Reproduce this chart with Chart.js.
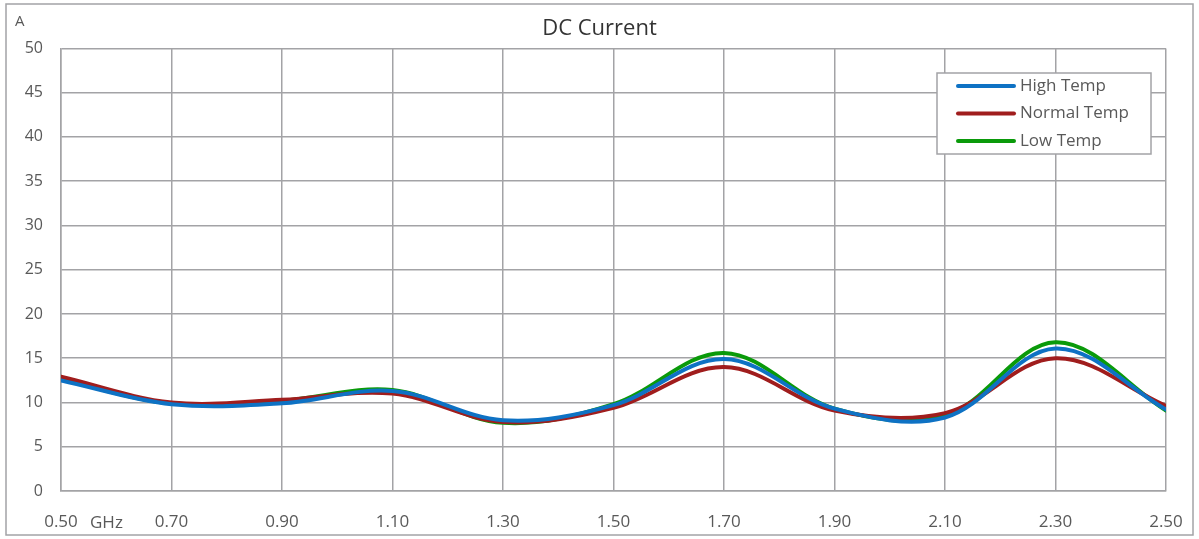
<!DOCTYPE html>
<html>
<head>
<meta charset="utf-8">
<title>DC Current</title>
<script src="https://cdn.jsdelivr.net/npm/chart.js@4.4.1/dist/chart.umd.min.js"></script>
<style>
    html, body { margin: 0; padding: 0; background: #fff; }
    #wrap { position: relative; width: 1199px; height: 539px; }
</style>
</head>
<body>
<div id="wrap"><canvas id="dc-chart"></canvas></div>
<script>
// --- DATA ---
const freqs = [0.5, 0.7, 0.9, 1.1, 1.3, 1.5, 1.7, 1.9, 2.1, 2.3, 2.5];
const highTemp   = [12.5, 9.8, 9.9, 11.3, 8.0, 9.7, 14.9, 9.3, 8.3, 16.1, 9.2];
const normalTemp = [12.9, 10.0, 10.3, 11.0, 7.8, 9.4, 14.0, 9.1, 8.8, 15.0, 9.6];
const lowTemp    = [12.6, 9.9, 10.2, 11.4, 7.7, 9.8, 15.6, 9.3, 8.5, 16.8, 9.1];
const seriesNames = ['High Temp', 'Normal Temp', 'Low Temp'];
const xTickValues = [0.5, 0.7, 0.9, 1.1, 1.3, 1.5, 1.7, 1.9, 2.1, 2.3, 2.5];
const xUnit = 'GHz';
const yUnit = 'A';

const COLORS = ['#0E72C4', '#A01D1D', '#0A9A0A'];
const GRID = '#A3A3A6';
const TEXT = '#595959';
const FONT = "'Open Sans', sans-serif";

const toPoints = vals => vals.map((v, i) => ({ x: freqs[i], y: v }));

// draws outer frame, unit labels and the boxed legend
const decorPlugin = {
    id: 'decor',
    afterDraw(chart) {
        const ctx = chart.ctx;
        const x = chart.scales.x;
        ctx.save();
        // outer frame
        ctx.strokeStyle = GRID;
        ctx.lineWidth = 1.5;
        ctx.strokeRect(6, 4, 1187, 531);

        // units
        ctx.fillStyle = TEXT;
        ctx.font = `15px ${FONT}`;
        ctx.textBaseline = 'middle';
        ctx.textAlign = 'left';
        ctx.fillText(yUnit, 15, 22);
        ctx.font = `17px ${FONT}`;
        ctx.fillText(xUnit, x.getPixelForValue(0.5) + 29, 523);

        // legend
        const lx = 937, ly = 73, lw = 214, lh = 81;
        ctx.fillStyle = '#fff';
        ctx.fillRect(lx, ly, lw, lh);
        ctx.strokeStyle = GRID;
        ctx.lineWidth = 1.5;
        ctx.strokeRect(lx, ly, lw, lh);
        chart.data.datasets.forEach((ds, i) => {
            const y = 86 + i * 27.5;
            ctx.strokeStyle = ds.borderColor;
            ctx.lineWidth = 4;
            ctx.lineCap = 'round';
            ctx.beginPath();
            ctx.moveTo(958, y);
            ctx.lineTo(1014, y);
            ctx.stroke();
            ctx.fillStyle = TEXT;
            ctx.font = `17px ${FONT}`;
            ctx.fillText(ds.label, 1020, y);
        });
        ctx.restore();
    }
};

const chart = new Chart(document.getElementById('dc-chart'), {
    type: 'line',
    data: {
        datasets: [
            { label: seriesNames[0], data: toPoints(highTemp), borderColor: COLORS[0] },
            { label: seriesNames[1], data: toPoints(normalTemp), borderColor: COLORS[1] },
            { label: seriesNames[2], data: toPoints(lowTemp), borderColor: COLORS[2] }
        ].map(ds => ({ ...ds, borderWidth: 4, pointRadius: 0, tension: 0.35, fill: false, borderCapStyle: 'round' }))
    },
    options: {
        responsive: true,
        maintainAspectRatio: false,
        animation: false,
        layout: { padding: { top: 2, right: 0, left: 0, bottom: 0 } },
        plugins: {
            legend: { display: false },
            tooltip: { enabled: false },
            title: {
                display: true,
                text: 'DC Current',
                color: '#333333',
                font: { family: FONT, size: 22, weight: 'normal' },
                padding: { top: 14, bottom: 6 }
            }
        },
        scales: {
            x: {
                type: 'linear',
                min: 0.5,
                max: 2.5,
                afterBuildTicks: s => { s.ticks = xTickValues.map(v => ({ value: v })); },
                afterFit: s => { s.height = 48; s.paddingLeft = 0; s.paddingRight = 33; },
                grid: { color: GRID, lineWidth: 1.5, drawTicks: false },
                border: { color: GRID, width: 1.5 },
                ticks: {
                    color: TEXT,
                    font: { family: FONT, size: 17 },
                    padding: 21,
                    maxRotation: 0,
                    autoSkip: false,
                    callback: v => Number(v).toFixed(2)
                }
            },
            y: {
                min: 0,
                max: 50,
                afterFit: s => { s.width = 61; s.paddingTop = 0; s.paddingBottom = 0; },
                grid: { color: GRID, lineWidth: 1.5, drawTicks: false },
                border: { color: GRID, width: 1.5 },
                ticks: {
                    stepSize: 5,
                    color: TEXT,
                    font: { family: FONT, size: 16 },
                    padding: 18
                }
            }
        }
    },
    plugins: [decorPlugin]
});
</script>
</body>
</html>
